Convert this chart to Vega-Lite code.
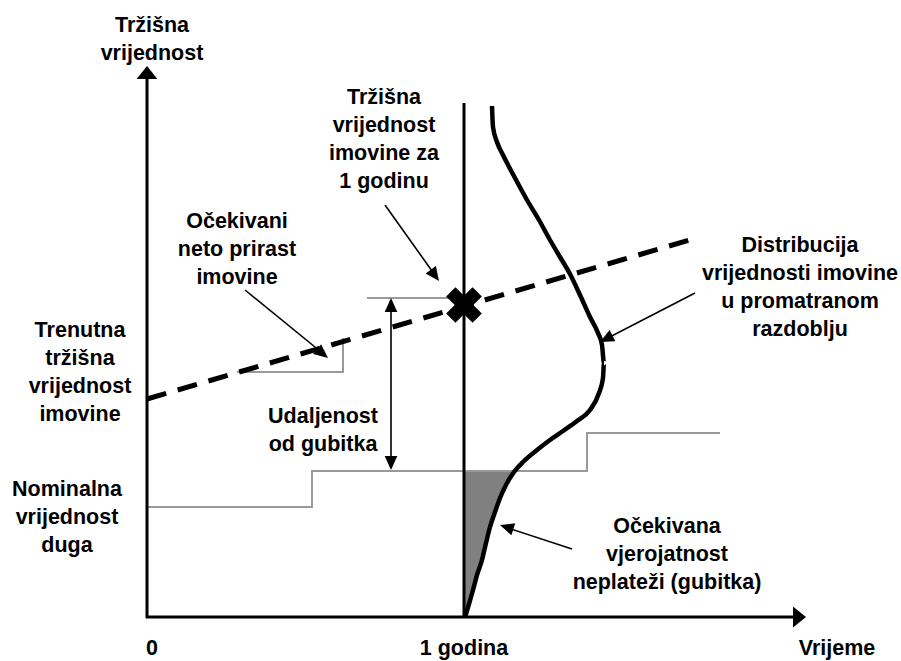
{
  "$schema": "https://vega.github.io/schema/vega-lite/v6.json",
  "width": 901,
  "height": 661,
  "autosize": {"type": "fit", "contains": "padding"},
  "padding": 0,
  "background": "white",
  "config": {"view": {"stroke": null}},
  "datasets": {
    "axes": [
      {"id": "yaxis", "i": 0, "x": 147, "y": 618},
      {"id": "yaxis", "i": 1, "x": 147, "y": 72},
      {"id": "xaxis", "i": 0, "x": 146, "y": 617},
      {"id": "xaxis", "i": 1, "x": 800, "y": 617},
      {"id": "year", "i": 0, "x": 464, "y": 103},
      {"id": "year", "i": 1, "x": 464, "y": 617}
    ],
    "curve": [
      {"i": 0, "x": 492, "y": 106}, {"i": 1, "x": 493, "y": 127}, {"i": 2, "x": 497, "y": 142},
      {"i": 3, "x": 503, "y": 155}, {"i": 4, "x": 515, "y": 178}, {"i": 5, "x": 527, "y": 200},
      {"i": 6, "x": 539, "y": 220}, {"i": 7, "x": 550, "y": 240}, {"i": 8, "x": 560, "y": 257},
      {"i": 9, "x": 570, "y": 274}, {"i": 10, "x": 580, "y": 295}, {"i": 11, "x": 590, "y": 317},
      {"i": 12, "x": 598, "y": 333}, {"i": 13, "x": 602, "y": 345}, {"i": 14, "x": 604, "y": 363},
      {"i": 15, "x": 603, "y": 378}, {"i": 16, "x": 599, "y": 393}, {"i": 17, "x": 590, "y": 410},
      {"i": 18, "x": 577, "y": 421}, {"i": 19, "x": 563, "y": 431}, {"i": 20, "x": 550, "y": 440},
      {"i": 21, "x": 537, "y": 450}, {"i": 22, "x": 524, "y": 461}, {"i": 23, "x": 514, "y": 472},
      {"i": 24, "x": 506, "y": 485}, {"i": 25, "x": 500, "y": 498}, {"i": 26, "x": 495, "y": 512},
      {"i": 27, "x": 490, "y": 527}, {"i": 28, "x": 486, "y": 543}, {"i": 29, "x": 482, "y": 560},
      {"i": 30, "x": 477, "y": 575}, {"i": 31, "x": 473, "y": 590}, {"i": 32, "x": 469, "y": 604},
      {"i": 33, "x": 465, "y": 617}
    ],
    "shade": [
      {"y": 470, "x": 465, "xc": 515}, {"y": 473, "x": 465, "xc": 513}, {"y": 485, "x": 465, "xc": 506},
      {"y": 498, "x": 465, "xc": 500}, {"y": 512, "x": 465, "xc": 495}, {"y": 527, "x": 465, "xc": 490},
      {"y": 543, "x": 465, "xc": 486}, {"y": 560, "x": 465, "xc": 482}, {"y": 575, "x": 465, "xc": 477},
      {"y": 590, "x": 465, "xc": 473}, {"y": 604, "x": 465, "xc": 469}, {"y": 617, "x": 465, "xc": 465}
    ],
    "dashed": [
      {"i": 0, "x": 147, "y": 399},
      {"i": 1, "x": 693, "y": 239}
    ],
    "gray": [
      {"id": "debt", "i": 0, "x": 147, "y": 507},
      {"id": "debt", "i": 1, "x": 312, "y": 507},
      {"id": "debt", "i": 2, "x": 312, "y": 471},
      {"id": "debt", "i": 3, "x": 587, "y": 471},
      {"id": "debt", "i": 4, "x": 587, "y": 433},
      {"id": "debt", "i": 5, "x": 720, "y": 433},
      {"id": "growth", "i": 0, "x": 237, "y": 372},
      {"id": "growth", "i": 1, "x": 343, "y": 372},
      {"id": "growth", "i": 2, "x": 343, "y": 338},
      {"id": "top", "i": 0, "x": 367, "y": 298},
      {"id": "top", "i": 1, "x": 449, "y": 298}
    ],
    "shafts": [
      {"id": "dist", "i": 0, "x": 391, "y": 302},
      {"id": "dist", "i": 1, "x": 391, "y": 466},
      {"id": "a1", "i": 0, "x": 385, "y": 205},
      {"id": "a1", "i": 1, "x": 437, "y": 278},
      {"id": "a2", "i": 0, "x": 245, "y": 290},
      {"id": "a2", "i": 1, "x": 326, "y": 356},
      {"id": "a3", "i": 0, "x": 695, "y": 293},
      {"id": "a3", "i": 1, "x": 602, "y": 341},
      {"id": "a4", "i": 0, "x": 572, "y": 549},
      {"id": "a4", "i": 1, "x": 502, "y": 526}
    ],
    "bigheads": [
      {"x": 147, "y": 66, "angle": 0},
      {"x": 806, "y": 617, "angle": 90}
    ],
    "heads": [
      {"x": 391, "y": 298, "angle": 0},
      {"x": 391, "y": 470, "angle": 180},
      {"x": 439, "y": 281, "angle": 144},
      {"x": 328, "y": 358, "angle": 129},
      {"x": 600, "y": 342, "angle": 243},
      {"x": 500, "y": 525, "angle": 288}
    ],
    "cross": [
      {"x": 464, "y": 305}
    ],
    "labels": [
      {"x": 152, "y": 32, "text": "Tržišna\nvrijednost"},
      {"x": 384, "y": 104, "text": "Tržišna\nvrijednost\nimovine za\n1 godinu"},
      {"x": 237, "y": 228, "text": "Očekivani\nneto prirast\nimovine"},
      {"x": 800, "y": 252, "text": "Distribucija\nvrijednosti imovine\nu promatranom\nrazdoblju"},
      {"x": 80, "y": 337, "text": "Trenutna\ntržišna\nvrijednost\nimovine"},
      {"x": 323, "y": 423, "text": "Udaljenost\nod gubitka"},
      {"x": 67, "y": 496, "text": "Nominalna\nvrijednost\nduga"},
      {"x": 667, "y": 533, "text": "Očekivana\nvjerojatnost\nneplateži (gubitka)"},
      {"x": 152, "y": 655, "text": "0"},
      {"x": 464, "y": 655, "text": "1 godina"},
      {"x": 837, "y": 655, "text": "Vrijeme"}
    ]
  },
  "encoding": {
    "x": {"field": "x", "type": "quantitative", "axis": null, "scale": {"domain": [0, 901], "nice": false, "zero": false}},
    "y": {"field": "y", "type": "quantitative", "axis": null, "scale": {"domain": [0, 661], "nice": false, "zero": false, "reverse": true}}
  },
  "layer": [
    {
      "data": {"name": "shade"},
      "mark": {"type": "area", "orient": "horizontal", "color": "#808080", "opacity": 1},
      "encoding": {"x2": {"field": "xc"}}
    },
    {
      "data": {"name": "gray"},
      "mark": {"type": "line", "color": "#9a9a9a", "strokeWidth": 2},
      "encoding": {"detail": {"field": "id"}, "order": {"field": "i"}}
    },
    {
      "data": {"name": "dashed"},
      "mark": {"type": "line", "color": "black", "strokeWidth": 5, "strokeDash": [20, 12]},
      "encoding": {"order": {"field": "i"}}
    },
    {
      "data": {"name": "axes"},
      "mark": {"type": "line", "color": "black", "strokeWidth": 3},
      "encoding": {"detail": {"field": "id"}, "order": {"field": "i"}}
    },
    {
      "data": {"name": "curve"},
      "mark": {"type": "line", "color": "black", "strokeWidth": 4.5, "interpolate": "monotone"},
      "encoding": {"order": {"field": "i"}}
    },
    {
      "data": {"name": "shafts"},
      "mark": {"type": "line", "color": "black", "strokeWidth": 1.6},
      "encoding": {"detail": {"field": "id"}, "order": {"field": "i"}}
    },
    {
      "data": {"name": "bigheads"},
      "mark": {"type": "point", "shape": "M0,0 L0.8,1 L-0.8,1 Z", "size": 676, "filled": true, "color": "black", "opacity": 1},
      "encoding": {"angle": {"field": "angle", "type": "quantitative", "scale": null}}
    },
    {
      "data": {"name": "heads"},
      "mark": {"type": "point", "shape": "M0,0 L0.45,1 L-0.45,1 Z", "size": 784, "filled": true, "color": "black", "opacity": 1},
      "encoding": {"angle": {"field": "angle", "type": "quantitative", "scale": null}}
    },
    {
      "data": {"name": "cross"},
      "mark": {"type": "point", "shape": "M-1,-0.35 L-0.35,-0.35 L-0.35,-1 L0.35,-1 L0.35,-0.35 L1,-0.35 L1,0.35 L0.35,0.35 L0.35,1 L-0.35,1 L-0.35,0.35 L-1,0.35 Z", "size": 1400, "angle": 45, "filled": true, "color": "black", "opacity": 1}
    },
    {
      "data": {"name": "labels"},
      "mark": {"type": "text", "font": "Liberation Sans", "fontWeight": "bold", "fontSize": 21.5, "lineHeight": 28, "lineBreak": "\n", "align": "center", "baseline": "alphabetic", "color": "black"},
      "encoding": {"text": {"field": "text"}}
    }
  ]
}
